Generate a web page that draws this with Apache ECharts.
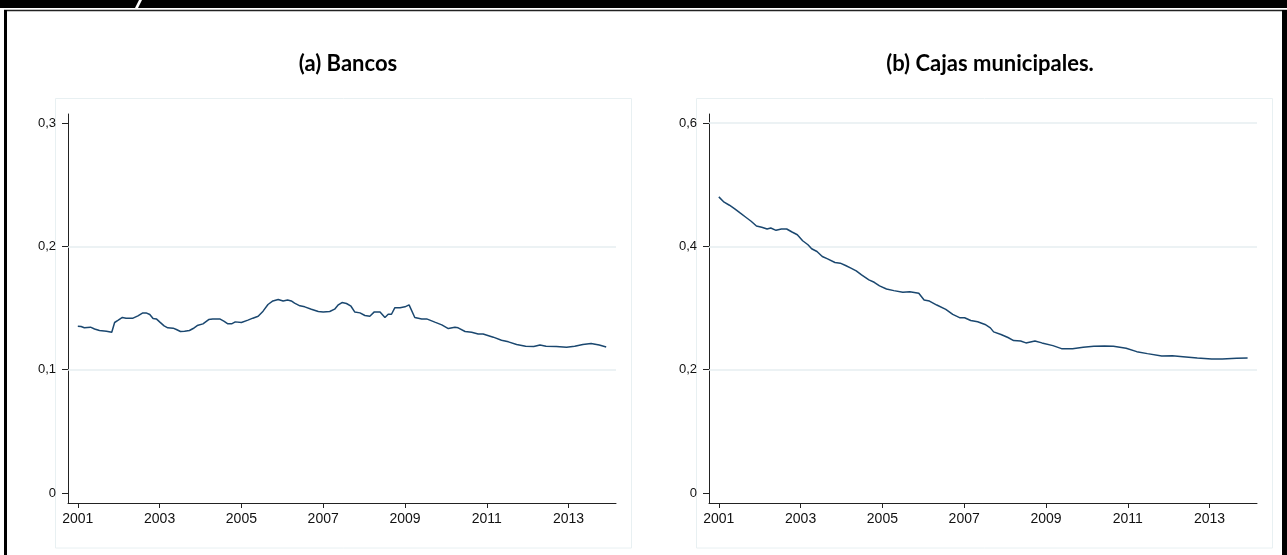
<!DOCTYPE html>
<html>
<head>
<meta charset="utf-8">
<script src="https://cdn.jsdelivr.net/npm/echarts@6/dist/echarts.min.js"></script>
<style>
  html, body { margin: 0; padding: 0; background: #fff; }
  #chart { width: 1287px; height: 555px; }
</style>
</head>
<body>
<div id="chart"></div>
<script>
// panel (a) Bancos: decimal years and values
const yearsA = [
  2001.00, 2001.08, 2001.16, 2001.31, 2001.41, 2001.53, 2001.70, 2001.83, 2001.90, 2001.98,
  2002.09, 2002.18, 2002.35, 2002.47, 2002.59, 2002.67, 2002.76, 2002.84, 2002.92, 2003.00,
  2003.11, 2003.20, 2003.33, 2003.41, 2003.51, 2003.61, 2003.73, 2003.82, 2003.92, 2004.06,
  2004.20, 2004.30, 2004.47, 2004.57, 2004.67, 2004.76, 2004.85, 2005.00, 2005.16, 2005.28,
  2005.41, 2005.53, 2005.65, 2005.77, 2005.90, 2006.02, 2006.13, 2006.22, 2006.30, 2006.43,
  2006.55, 2006.71, 2006.88, 2007.00, 2007.16, 2007.28, 2007.36, 2007.46, 2007.57, 2007.68,
  2007.77, 2007.90, 2008.02, 2008.14, 2008.25, 2008.39, 2008.51, 2008.59, 2008.67, 2008.75,
  2008.88, 2009.00, 2009.10, 2009.24, 2009.41, 2009.53, 2009.73, 2009.90, 2010.06, 2010.10,
  2010.22, 2010.30, 2010.47, 2010.63, 2010.79, 2010.91, 2011.16, 2011.36, 2011.53, 2011.73,
  2011.95, 2012.15, 2012.30, 2012.45, 2012.70, 2012.95, 2013.15, 2013.35, 2013.55, 2013.75,
  2013.92
];
const valuesA = [
  0.1353, 0.1350, 0.1340, 0.1345, 0.1330, 0.1318, 0.1312, 0.1304, 0.1383, 0.1400,
  0.1424, 0.1418, 0.1418, 0.1437, 0.1461, 0.1461, 0.1448, 0.1415, 0.1412, 0.1388,
  0.1356, 0.1340, 0.1337, 0.1326, 0.1310, 0.1312, 0.1318, 0.1334, 0.1358, 0.1372,
  0.1407, 0.1412, 0.1412, 0.1394, 0.1372, 0.1372, 0.1388, 0.1383, 0.1402, 0.1418,
  0.1434, 0.1475, 0.1529, 0.1558, 0.1570, 0.1558, 0.1566, 0.1558, 0.1540, 0.1518,
  0.1510, 0.1491, 0.1472, 0.1469, 0.1472, 0.1491, 0.1523, 0.1545, 0.1537, 0.1515,
  0.1469, 0.1461, 0.1440, 0.1434, 0.1469, 0.1469, 0.1424, 0.1450, 0.1450, 0.1502,
  0.1502, 0.1510, 0.1526, 0.1424, 0.1412, 0.1412, 0.1386, 0.1364, 0.1334, 0.1323,
  0.1345, 0.1340, 0.1310, 0.1304, 0.1290, 0.1290, 0.1264, 0.1239, 0.1226, 0.1205,
  0.1190, 0.1188, 0.1200, 0.1190, 0.1188, 0.1183, 0.1190, 0.1205, 0.1213, 0.1200,
  0.1185
];

// panel (b) Cajas municipales
const yearsB = [
  2001.00, 2001.13, 2001.26, 2001.39, 2001.52, 2001.66, 2001.79, 2001.92, 2002.05, 2002.18,
  2002.27, 2002.40, 2002.53, 2002.66, 2002.79, 2002.92, 2003.05, 2003.18, 2003.27, 2003.40,
  2003.53, 2003.66, 2003.84, 2003.97, 2004.10, 2004.23, 2004.36, 2004.49, 2004.67, 2004.80,
  2004.93, 2005.10, 2005.28, 2005.50, 2005.67, 2005.89, 2006.02, 2006.15, 2006.33, 2006.55,
  2006.72, 2006.90, 2007.01, 2007.16, 2007.33, 2007.51, 2007.64, 2007.72, 2007.90, 2008.07,
  2008.21, 2008.38, 2008.51, 2008.73, 2008.90, 2009.17, 2009.38, 2009.65, 2009.91, 2010.17,
  2010.43, 2010.65, 2010.96, 2011.22, 2011.48, 2011.83, 2012.09, 2012.35, 2012.70, 2013.05,
  2013.31, 2013.66, 2013.93
];
const valuesB = [
  0.4804, 0.4717, 0.4668, 0.4609, 0.4543, 0.4473, 0.4408, 0.4332, 0.4310, 0.4283,
  0.4299, 0.4261, 0.4283, 0.4283, 0.4234, 0.4190, 0.4092, 0.4027, 0.3962, 0.3918,
  0.3837, 0.3799, 0.3739, 0.3728, 0.3690, 0.3647, 0.3603, 0.3538, 0.3457, 0.3418,
  0.3359, 0.3310, 0.3283, 0.3255, 0.3266, 0.3239, 0.3130, 0.3114, 0.3049, 0.2978,
  0.2897, 0.2842, 0.2842, 0.2799, 0.2777, 0.2734, 0.2679, 0.2614, 0.2571, 0.2522,
  0.2473, 0.2467, 0.2435, 0.2467, 0.2435, 0.2391, 0.2342, 0.2342, 0.2364, 0.2380,
  0.2386, 0.2380, 0.2348, 0.2293, 0.2261, 0.2223, 0.2228, 0.2212, 0.2190, 0.2174,
  0.2174, 0.2185, 0.2190
];

const xTicks = [2001, 2003, 2005, 2007, 2009, 2011, 2013];
const yTicksA = [0, 0.1, 0.2, 0.3];
const yTicksB = [0, 0.2, 0.4, 0.6];
const gridA = [0.1, 0.2];
const gridB = [0.2, 0.4, 0.6];
const titles = ["(a) Bancos", "(b) Cajas municipales."];

const navy = "#1a476f";
const gridColor = "#e6eef1";
const boxColor = "#e8f0f2";
const tickFont = "Liberation Sans, Arial, sans-serif";

function xAxisFor(idx) {
  return {
    type: "value",
    gridIndex: idx,
    min: 2000.76,
    max: 2014.16,
    axisLine: { onZero: false, lineStyle: { color: "#222", width: 1 } },
    axisTick: { customValues: xTicks, length: 5, lineStyle: { color: "#222" } },
    axisLabel: {
      customValues: xTicks,
      margin: 9,
      color: "#111",
      fontSize: 14,
      fontFamily: tickFont,
      formatter: (v) => String(Math.round(v))
    },
    splitLine: { show: false }
  };
}

function yAxisFor(idx, min, max, ticks) {
  return {
    type: "value",
    gridIndex: idx,
    min: min,
    max: max,
    axisLine: { show: true, onZero: false, lineStyle: { color: "#222", width: 1 } },
    axisTick: { show: true, customValues: ticks, length: 6, lineStyle: { color: "#222" } },
    axisLabel: {
      customValues: ticks,
      margin: 12,
      color: "#111",
      fontSize: 13,
      fontFamily: tickFont,
      formatter: (v) => String(Math.round(v * 10) / 10).replace(".", ",")
    },
    splitLine: { show: false }
  };
}

function lineSeries(idx, xs, ys, gridVals) {
  return {
    type: "line",
    xAxisIndex: idx,
    yAxisIndex: idx,
    z: 3,
    data: xs.map((x, i) => [x, ys[i]]),
    showSymbol: false,
    lineStyle: { color: navy, width: 1.5 },
    itemStyle: { color: navy },
    markLine: {
      silent: true,
      z: 1,
      symbol: "none",
      label: { show: false },
      lineStyle: { color: gridColor, type: "solid", width: 1.5 },
      data: gridVals.map((v) => ({ yAxis: v }))
    }
  };
}

const chart = echarts.init(document.getElementById("chart"), null, { renderer: "canvas" });
chart.setOption({
  backgroundColor: "#fff",
  animation: false,
  title: [
    {
      text: titles[0], left: 343, top: 48, textAlign: "center",
      textStyle: { fontFamily: "Lato", fontWeight: "bold", fontSize: 22, color: "#000" }
    },
    {
      text: titles[1], left: 985, top: 48, textAlign: "center",
      textStyle: { fontFamily: "Lato", fontWeight: "bold", fontSize: 22, color: "#000" }
    }
  ],
  grid: [
    { left: 68, top: 114, width: 548, height: 389 },
    { left: 709, top: 114, width: 548, height: 389 }
  ],
  xAxis: [xAxisFor(0), xAxisFor(1)],
  yAxis: [
    yAxisFor(0, -0.0081, 0.3074, yTicksA),
    yAxisFor(1, -0.0162, 0.6148, yTicksB)
  ],
  series: [
    lineSeries(0, yearsA, valuesA, gridA),
    lineSeries(1, yearsB, valuesB, gridB)
  ],
  graphic: [
    // outer frame
    { type: "rect", shape: { x: 0, y: 0, width: 1287, height: 8 }, style: { fill: "#000" }, z: 10 },
    { type: "polygon", shape: { points: [[135, 8], [138, 8], [142, 0], [139, 0]] }, style: { fill: "#fff" }, z: 11 },
    { type: "line", shape: { x1: 4, y1: 10.5, x2: 1287, y2: 10.5 }, style: { stroke: "#222", lineWidth: 1.5 }, z: 10 },
    { type: "rect", shape: { x: 4, y: 10, width: 3, height: 545 }, style: { fill: "#000" }, z: 10 },
    { type: "rect", shape: { x: 1282, y: 10, width: 5, height: 545 }, style: { fill: "#000" }, z: 10 },
    // light panel boxes
    { type: "rect", shape: { x: 55.5, y: 98.5, width: 576, height: 449.5 }, style: { fill: null, stroke: boxColor, lineWidth: 1 }, z: -1 },
    { type: "rect", shape: { x: 696.5, y: 98.5, width: 576, height: 449.5 }, style: { fill: null, stroke: boxColor, lineWidth: 1 }, z: -1 }
  ]
});
window.addEventListener("resize", () => chart.resize());
</script>
</body>
</html>
